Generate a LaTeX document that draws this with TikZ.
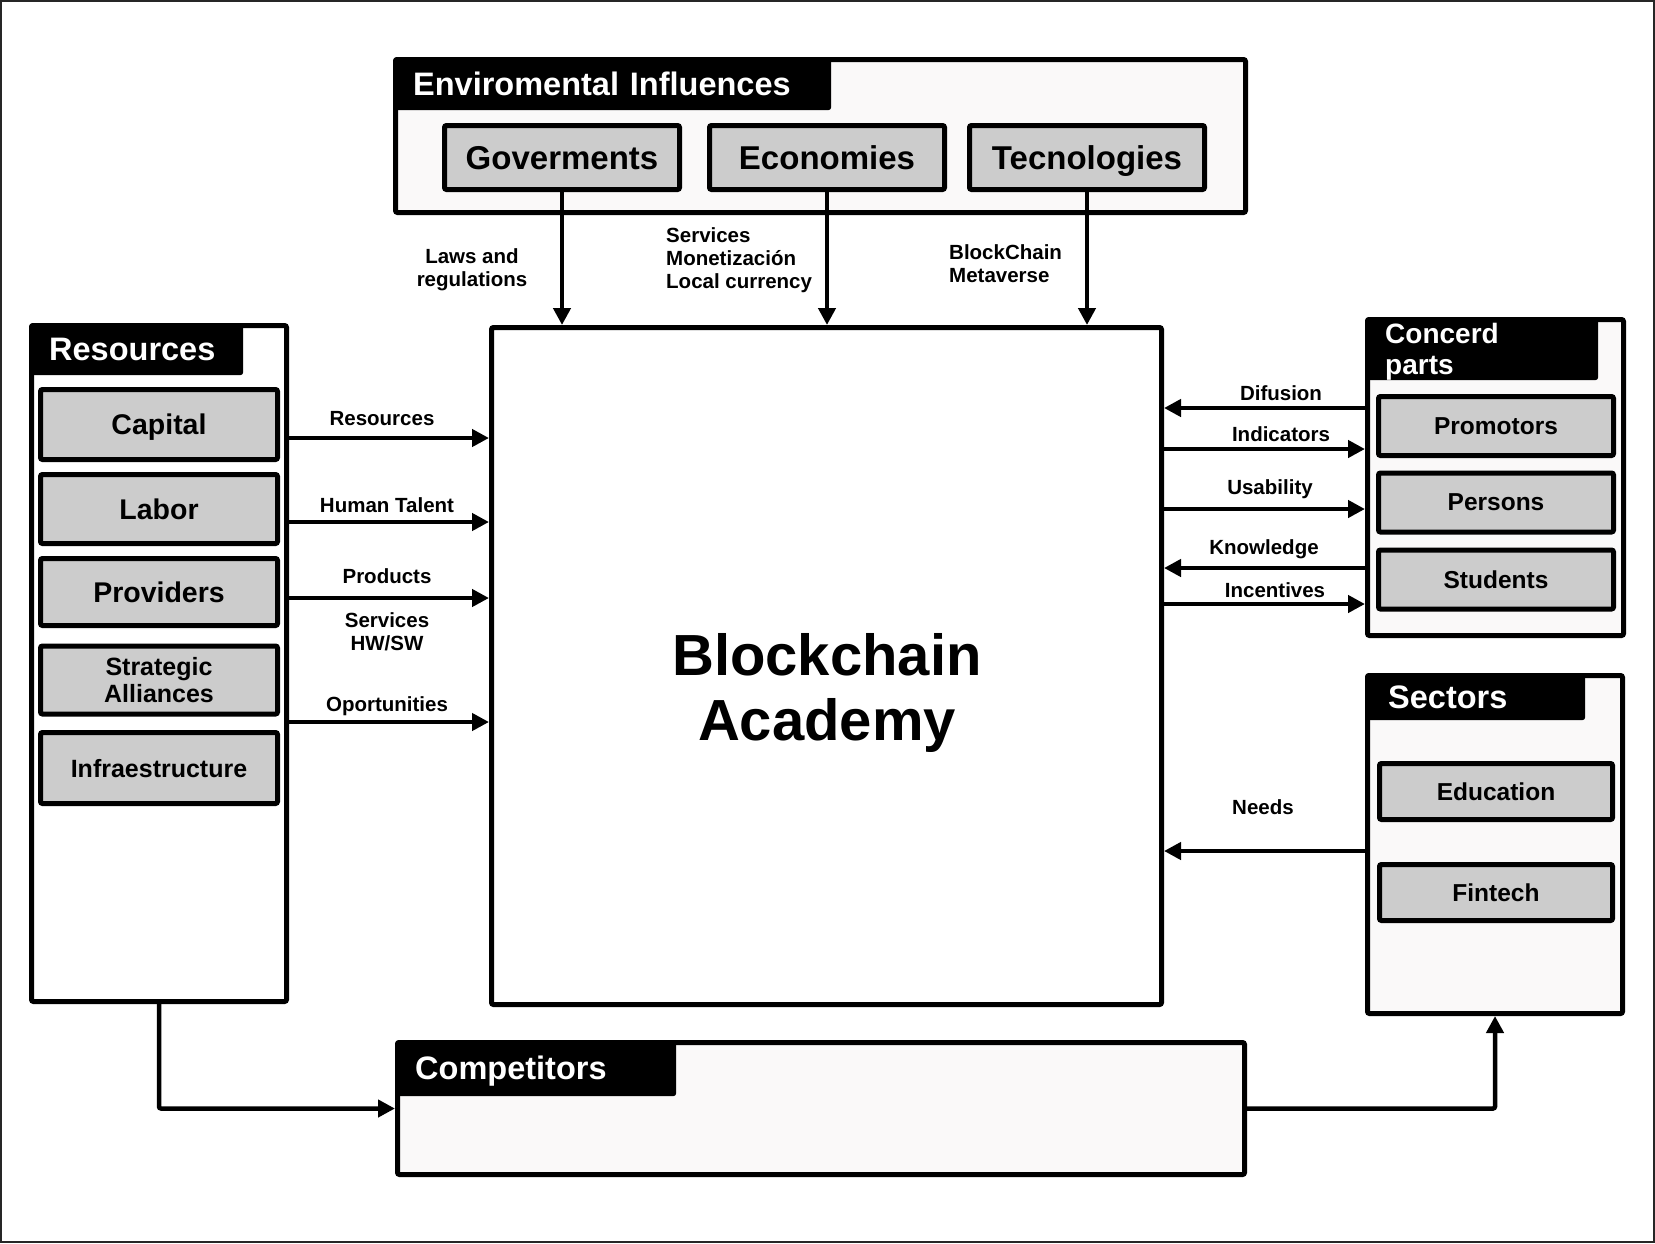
\documentclass[tikz,border=0pt]{standalone}
\usepackage{fontspec}
\setmainfont{Liberation Sans}
\usepackage{xcolor}
\usepackage{tikz}
\usetikzlibrary{arrows.meta, positioning}
\definecolor{panelfill}{RGB}{250,249,249}
\definecolor{itemfill}{RGB}{204,204,204}

\begin{document}
\begin{tikzpicture}[
                x=1pt, y=-1pt, % one unit per pixel, y going down
                panel/.style={draw, line width=5pt, fill=panelfill, rounded corners=2pt, inner sep=0pt, anchor=north west}, % outer boxes
                header/.style={fill=black, text=white, rounded corners=3pt, inner xsep=20pt, inner ysep=0pt, text depth=0pt, anchor=north west, align=left, font=\fontsize{32.5pt}{30pt}\selectfont\bfseries}, % black title tabs
                item/.style={draw, line width=5pt, fill=itemfill, rounded corners=2pt, inner sep=0pt, text depth=0pt, align=center, font=\fontsize{#1}{27pt}\selectfont\bfseries}, % grey boxes
                link/.style={line width=4.5pt, -{Triangle[length=17pt, width=17pt]}}, % arrows
                lbl/.style={inner sep=0pt, align=center, font=\fontsize{20.5pt}{23pt}\selectfont\bfseries} % arrow labels
                ]
                \useasboundingbox (0,0) rectangle (1655,1243);
                \draw[line width=2pt, black!85] (1,1) rectangle (1654,1242);

                \node[panel, minimum width=850pt, minimum height=153pt] (env) at (393,57) {};
                \node[panel, fill=white, minimum width=670pt, minimum height=677pt] (main) at (489,325) {};
                \node[panel, fill=white, minimum width=255pt, minimum height=676pt] (res) at (29,323) {};
                \node[panel, minimum width=256pt, minimum height=316pt] (conc) at (1365,317) {};
                \node[panel, minimum width=255pt, minimum height=338pt] (sect) at (1365,673) {};
                \node[panel, minimum width=847pt, minimum height=132pt] (comp) at (395,1040) {};

                \node[header, minimum height=53pt, text width=398pt] (envhead) at (env.north west) {Enviromental Influences};
                \node[header, minimum height=52pt, text width=174pt] (reshead) at (res.north west) {Resources};
                \node[header, minimum height=63pt, text width=193pt, text depth=31pt, font=\fontsize{28pt}{31pt}\selectfont\bfseries] (conchead) at (conc.north west) {Concerd\\parts};
                \node[header, minimum height=47pt, text width=174pt, inner xsep=23pt] (secthead) at (sect.north west) {Sectors};
                \node[header, minimum height=56pt, text width=241pt] (comphead) at (comp.north west) {Competitors};

                \node[font=\fontsize{58pt}{65pt}\selectfont\bfseries, align=center] (acad) at (827,693) {Blockchain\\Academy};

                \node[item=33pt, minimum width=235pt, minimum height=64pt] (gov) at (562,157.5) {Goverments};
                \node[item=33pt, minimum width=235pt, minimum height=64pt] (eco) at (827,157.5) {Economies};
                \node[item=33pt, minimum width=235pt, minimum height=64pt] (tec) at (1087,157.5) {Tecnologies};

                \node[item=28.5pt, minimum width=237pt, minimum height=70pt] (cap) at (159,424.5) {Capital};
                \node[item=28.5pt, minimum width=237pt, minimum height=69pt] (lab) at (159,509) {Labor};
                \node[item=28.5pt, minimum width=237pt, minimum height=67pt] (prov) at (159,592) {Providers};
                \node[item=25pt, minimum width=237pt, minimum height=68pt] (strat) at (159,680) {Strategic\\Alliances};
                \node[item=25pt, minimum width=237pt, minimum height=71pt] (infra) at (159,768) {Infraestructure};

                \node[item=24.5pt, minimum width=235pt, minimum height=59pt] (prom) at (1496,426) {Promotors};
                \node[item=24.5pt, minimum width=235pt, minimum height=59pt] (pers) at (1496,502.5) {Persons};
                \node[item=24.5pt, minimum width=235pt, minimum height=59pt] (stud) at (1496,579.5) {Students};
                \node[item=24.5pt, minimum width=233pt, minimum height=56pt] (edu) at (1496,791.5) {Education};
                \node[item=24.5pt, minimum width=233pt, minimum height=56pt] (fin) at (1496,892.5) {Fintech};

                \draw[link] (gov.south) -- (gov.south |- main.north);
                \draw[link] (eco.south) -- (eco.south |- main.north);
                \draw[link] (tec.south) -- (tec.south |- main.north);
                \node[lbl] (govlbl) at (472,270) {Laws and\\regulations};
                \node[lbl, align=left, anchor=west] (ecolbl) at (666,260) {Services\\Monetización\\Local currency};
                \node[lbl, align=left, anchor=west] (teclbl) at (949,263.5) {BlockChain\\Metaverse};

                \foreach \y in {438,522,598,722}
                    \draw[link] (res.east |- 0,\y) -- (main.west |- 0,\y);
                \node[lbl] (reslbl) at (382,419) {Resources};
                \node[lbl] (talentlbl) at (387,505) {Human Talent};
                \node[lbl] (prodlbl) at (387,576) {Products};
                \node[lbl] (servlbl) at (387,631.5) {Services\\HW/SW};
                \node[lbl] (oplbl) at (387,706) {Oportunities};

                \draw[link] (conc.west |- 0,408) -- (main.east |- 0,408);
                \draw[link] (main.east |- 0,449) -- (conc.west |- 0,449);
                \draw[link] (main.east |- 0,509) -- (conc.west |- 0,509);
                \draw[link] (conc.west |- 0,568) -- (main.east |- 0,568);
                \draw[link] (main.east |- 0,604) -- (conc.west |- 0,604);
                \draw[link] (sect.west |- 0,851) -- (main.east |- 0,851);
                \node[lbl] (diflbl) at (1281,393) {Difusion};
                \node[lbl] (indlbl) at (1281,434) {Indicators};
                \node[lbl] (uselbl) at (1270,489) {Usability};
                \node[lbl] (knowlbl) at (1264,549) {Knowledge};
                \node[lbl] (inclbl) at (1275,590) {Incentives};
                \node[lbl] (needlbl) at (1263,807) {Needs};

                \draw[link, rounded corners=2pt] (res.south) |- (comp.west);
                \draw[link, rounded corners=2pt] (comp.east) -| (sect.south);
            \end{tikzpicture}
\end{document}
